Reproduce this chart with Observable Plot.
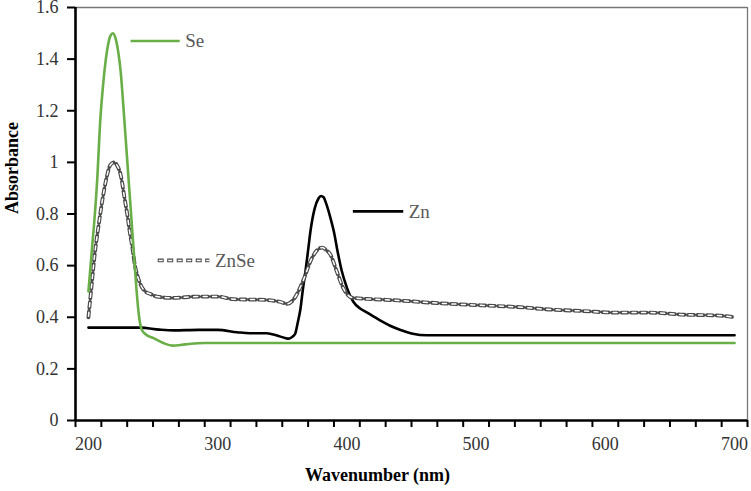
<!DOCTYPE html>
<html><head><meta charset="utf-8">
<script src="https://cdn.jsdelivr.net/npm/d3@7"></script>
<script src="https://cdn.jsdelivr.net/npm/@observablehq/plot@0.6"></script>
<style>
html,body{margin:0;padding:0;background:#fff;overflow:hidden}
</style>
</head><body><div id="chart"></div>
<script>
// Se (green solid)
const seWl = [200,203,205,207,209,211,213,215,217,219,221,223,225,227,229,231,233,235,237,239,241,244,250,258,265,275,290,350,450,550,650,700];
const seAbs = [0.50,0.68,0.80,0.95,1.15,1.28,1.38,1.45,1.49,1.50,1.48,1.43,1.35,1.22,1.08,0.94,0.80,0.66,0.52,0.41,0.355,0.335,0.32,0.30,0.29,0.295,0.30,0.30,0.30,0.30,0.30,0.30];
// ZnSe (dashed)
const znseWl = [200,202,205,208,211,214,217,220,222,225,228,230,232,234,236,238,241,244,248,253,265,285,300,312,338,348,354,360,366,373,377,381,384,387,392,397,401,405,420,440,460,480,505,531,557,583,608,634,660,686,700];
const znseAbs = [0.40,0.50,0.65,0.76,0.86,0.94,0.99,1.00,0.99,0.95,0.86,0.80,0.73,0.67,0.60,0.56,0.52,0.50,0.49,0.48,0.475,0.48,0.48,0.47,0.467,0.46,0.452,0.478,0.54,0.63,0.66,0.67,0.66,0.645,0.58,0.515,0.485,0.475,0.47,0.465,0.458,0.452,0.446,0.44,0.43,0.424,0.418,0.418,0.41,0.407,0.40];
// Zn (black solid)
const znWl = [200,240,255,266,285,300,315,325,338,346,352,355,358,360,362,364,366,368,370,372,375,378,380,382,384,387,390,393,396,400,405,410,415,425,433,442,451,462,480,700];
const znAbs = [0.36,0.36,0.352,0.349,0.351,0.351,0.342,0.338,0.338,0.329,0.32,0.317,0.325,0.336,0.38,0.43,0.51,0.58,0.66,0.74,0.82,0.86,0.87,0.865,0.84,0.79,0.73,0.65,0.58,0.515,0.46,0.435,0.42,0.39,0.368,0.35,0.336,0.33,0.33,0.33];

const xMinorTicks = d3.range(190, 711, 20);
const xLabelTicks = [200,300,400,500,600,700];
const yTicks = [0,0.2,0.4,0.6,0.8,1,1.2,1.4,1.6];
const xDomain = [190, 710];
const yDomain = [0, 1.6];

// series labels (in data units)
const labelNames = ["Se","Zn","ZnSe"];
const labelX1 = [233, 405, 254];
const labelX2 = [271, 444, 294];
const labelY = [1.47, 0.81, 0.62];

const se = seWl.map((w,i)=>({w, a: seAbs[i]}));
const znse = znseWl.map((w,i)=>({w, a: znseAbs[i]}));
const zn = znWl.map((w,i)=>({w, a: znAbs[i]}));
const labels = labelNames.map((n,i)=>({n, x1: labelX1[i], x2: labelX2[i], y: labelY[i]}));

const FF = "serif";
const green = "#6aae48";
const dashOuter = {stroke: "#4a4a4a", strokeWidth: 3.8, strokeDasharray: "6,3.5"};
const dashInner = {stroke: "#fff", strokeWidth: 1.5, strokeDasharray: "4,5.5", strokeDashoffset: -1};

const chart = Plot.plot({
  width: 751, height: 491,
  marginLeft: 75, marginRight: 4, marginTop: 7, marginBottom: 71,
  style: {fontFamily: FF, background: "#fff"},
  x: {domain: xDomain, label: null},
  y: {domain: yDomain, label: null},
  marks: [
    Plot.ruleY([1.6], {stroke: "#777", strokeWidth: 1.3}),
    Plot.ruleX([710], {stroke: "#777", strokeWidth: 1.3}),
    Plot.axisX({ticks: xMinorTicks, tickFormat: () => "", tickSize: 7, stroke: "#000", strokeWidth: 2, label: null}),
    Plot.axisX({ticks: xLabelTicks, tickSize: 0, tickPadding: 17, fill: "#333", fontSize: 18, fontFamily: FF, label: null}),
    Plot.axisY({ticks: yTicks, tickSize: 8, tickPadding: 9, stroke: "#000", strokeWidth: 2, fill: "#333", fontSize: 18, fontFamily: FF, tickFormat: d => String(+d.toFixed(1)), label: null}),
    Plot.line(zn, {x: "w", y: "a", stroke: "#000", strokeWidth: 2.6, curve: "monotone-x"}),
    Plot.line(znse, {x: "w", y: "a", ...dashOuter, curve: "monotone-x"}),
    Plot.line(znse, {x: "w", y: "a", ...dashInner, curve: "monotone-x"}),
    Plot.line(se, {x: "w", y: "a", stroke: green, strokeWidth: 2.6, curve: "monotone-x"}),
    Plot.ruleY(labels.filter(d => d.n === "Se"), {y: "y", x1: "x1", x2: "x2", stroke: green, strokeWidth: 2.6}),
    Plot.ruleY(labels.filter(d => d.n === "Zn"), {y: "y", x1: "x1", x2: "x2", stroke: "#000", strokeWidth: 2.6}),
    Plot.ruleY(labels.filter(d => d.n === "ZnSe"), {y: "y", x1: "x1", x2: "x2", ...dashOuter}),
    Plot.ruleY(labels.filter(d => d.n === "ZnSe"), {y: "y", x1: "x1", x2: "x2", ...dashInner}),
    Plot.text(labels, {x: "x2", y: "y", text: "n", dx: 5, textAnchor: "start", fill: "#595959", fontSize: 19, fontFamily: FF}),
    Plot.ruleX([190], {stroke: "#000", strokeWidth: 2.6}),
    Plot.ruleY([0], {stroke: "#000", strokeWidth: 2.6}),
    Plot.text(["Absorbance"], {frameAnchor: "left", dx: -63, rotate: -90, fontWeight: "bold", fontSize: 18, fontFamily: FF, fill: "#000"}),
    Plot.text(["Wavenumber (nm)"], {frameAnchor: "bottom", dx: -34, dy: 60, fontWeight: "bold", fontSize: 18, fontFamily: FF, fill: "#000"})
  ]
});
document.getElementById("chart").appendChild(chart);
</script>
</body></html>
